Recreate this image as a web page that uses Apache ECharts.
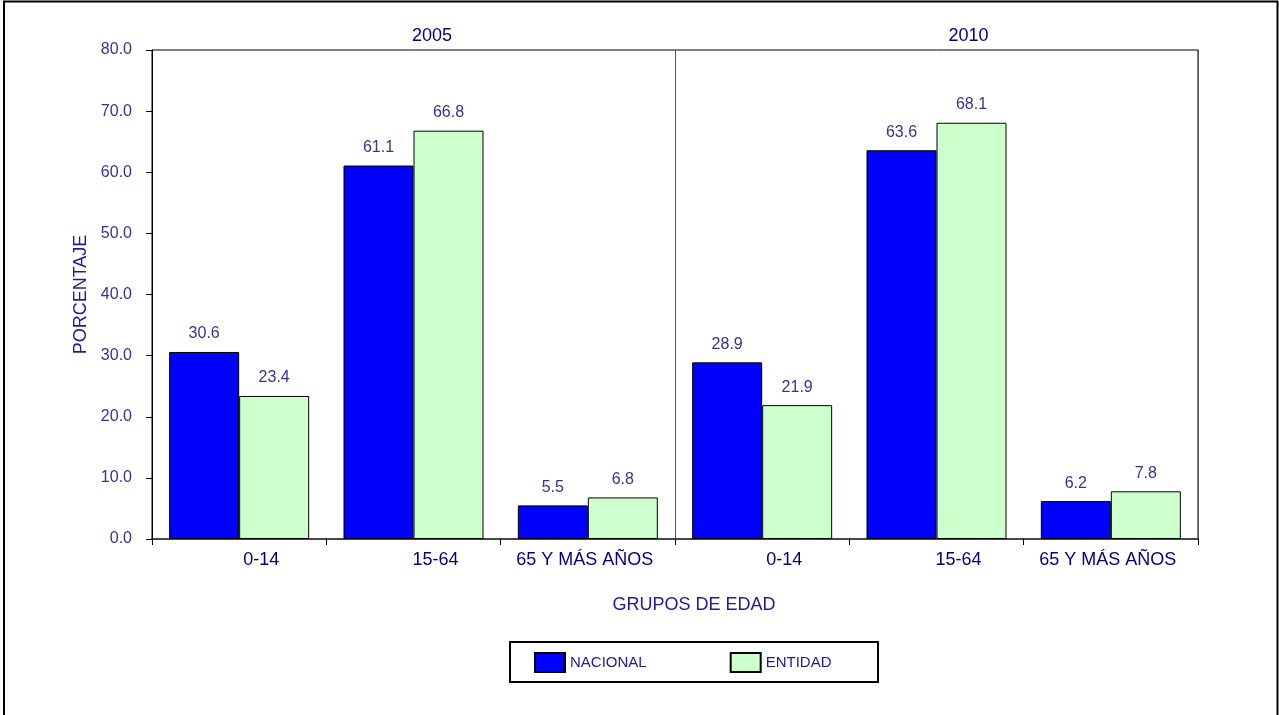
<!DOCTYPE html>
<html><head><meta charset="utf-8">
<script src="https://cdn.jsdelivr.net/npm/echarts@6/dist/echarts.min.js"></script>
<style>html,body{margin:0;padding:0;background:#fff}#c{width:1279px;height:715px}</style>
</head><body><div id="c"></div>
<script>
// ---- data ----
const years = ['2005', '2010'];
const ageGroups = ['0-14', '15-64', '65 Y MÁS AÑOS'];
const seriesNames = ['NACIONAL', 'ENTIDAD'];
const nacional2005 = [30.6, 61.1, 5.5];
const entidad2005 = [23.4, 66.8, 6.8];
const nacional2010 = [28.9, 63.6, 6.2];
const entidad2010 = [21.9, 68.1, 7.8];
const yMin = 0, yMax = 80, yStep = 10;
const xTitle = 'GRUPOS DE EDAD';
const yTitle = 'PORCENTAJE';

// ---- styling ----
const REG = "Arial,'Liberation Sans',sans-serif";
const labelShiftStyle = { '0-14': 'a', '15-64': 'a', '65 Y MÁS AÑOS': 'b' };
const yearShiftStyle = { '2005': 'y1', '2010': 'y2' };

const categories = [];
years.forEach(y => ageGroups.forEach(g => categories.push(y + '|' + g)));
const nacional = nacional2005.concat(nacional2010);
const entidad = entidad2005.concat(entidad2010);

const chart = echarts.init(document.getElementById('c'), null, { renderer: 'canvas' });

const valueLabel = {
  show: true, position: 'top', distance: 10,
  formatter: p => Number(p.value).toFixed(1),
  color: '#333399', fontFamily: REG, fontSize: 16
};

chart.setOption({
  animation: false,
  backgroundColor: '#fff',
  grid: { left: 152, right: 81, top: 50, bottom: 176, show: true, borderColor: '#000', borderWidth: 1 },
  legend: {
    data: seriesNames, left: 534, top: 652, icon: 'rect', padding: 0,
    itemWidth: 30, itemHeight: 19, itemGap: 83,
    itemStyle: { borderColor: '#000', borderWidth: 2 },
    textStyle: { color: '#1c1c9c', fontFamily: REG, fontSize: 15 }
  },
  xAxis: [{
    type: 'category', data: categories,
    name: xTitle, nameLocation: 'middle', nameGap: 57,
    nameTextStyle: { color: '#1c1c9c', fontFamily: REG, fontSize: 18, padding: [0, 0, 0, 38] },
    axisLine: { lineStyle: { color: '#333', width: 1.5 } },
    axisTick: { show: true, length: 6, interval: 0, lineStyle: { color: '#000' } },
    axisLabel: {
      interval: 0, margin: 12,
      formatter: v => { const g = v.split('|')[1]; return '{' + labelShiftStyle[g] + '|' + g + '}'; },
      rich: {
        a: { color: '#000080', fontFamily: REG, fontSize: 18, padding: [0, 0, 0, 44] },
        b: { color: '#000080', fontFamily: REG, fontSize: 18, padding: [0, 6, 0, 0] }
      }
    },
    splitLine: { show: false }
  }, {
    type: 'category', data: years, position: 'top',
    axisLine: { show: false }, axisTick: { show: false },
    axisLabel: {
      interval: 0, margin: 5,
      formatter: v => '{' + yearShiftStyle[v] + '|' + v + '}',
      rich: {
        y1: { color: '#000080', fontFamily: REG, fontSize: 18, padding: [0, 0, 0, 37] },
        y2: { color: '#000080', fontFamily: REG, fontSize: 18, padding: [0, 0, 0, 64] }
      }
    },
    splitLine: { show: true, interval: 0, lineStyle: { color: '#555', width: 1 } }
  }],
  yAxis: {
    type: 'value', min: yMin, max: yMax, interval: yStep,
    name: yTitle, nameLocation: 'middle', nameGap: 62, nameRotate: 90,
    nameTextStyle: { color: '#1c1c9c', fontFamily: REG, fontSize: 18 },
    axisLine: { show: true, lineStyle: { color: '#000', width: 1 } },
    axisTick: { show: true, length: 6, lineStyle: { color: '#000' } },
    axisLabel: { formatter: v => v.toFixed(1), color: '#333399', fontFamily: REG, fontSize: 16, margin: 20 },
    splitLine: { show: false }
  },
  series: [
    { name: seriesNames[0], type: 'bar', data: nacional, barWidth: 70, barGap: '0%',
      itemStyle: { color: '#0000FF', borderColor: '#000', borderWidth: 1 }, label: valueLabel },
    { name: seriesNames[1], type: 'bar', data: entidad, barWidth: 70, barGap: '0%',
      itemStyle: { color: '#CCFFCC', borderColor: '#000', borderWidth: 1 }, label: valueLabel }
  ],
  graphic: [
    { type: 'rect', silent: true, z: 100, shape: { x: 4, y: 1.5, width: 1273.5, height: 800 },
      style: { fill: 'none', stroke: '#000', lineWidth: 2 } },
    { type: 'rect', silent: true, z: 100, shape: { x: 510, y: 642, width: 368, height: 40 },
      style: { fill: 'none', stroke: '#000', lineWidth: 2 } }
  ]
});
</script>
</body></html>
